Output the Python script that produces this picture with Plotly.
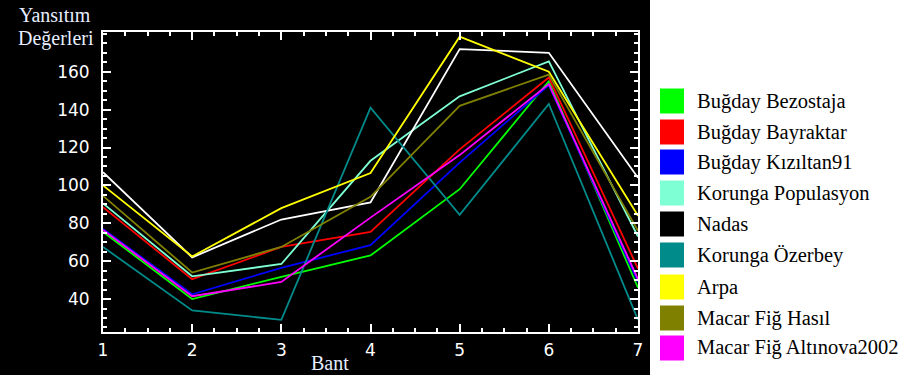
import plotly.graph_objects as go

bands = [1, 2, 3, 4, 5, 6, 7]
y_ticks = [40, 60, 80, 100, 120, 140, 160]

names = ["Buğday Bezostaja", "Buğday Bayraktar", "Buğday Kızıltan91",
         "Korunga Populasyon", "Nadas", "Korunga Özerbey", "Arpa",
         "Macar Fiğ Hasıl", "Macar Fiğ Altınova2002"]

bezostaja = [75.5, 40, 51.7, 63, 98, 155, 46]
bayraktar = [88.5, 50.5, 67.5, 75.5, 119, 157, 56]
kiziltan91 = [77, 42.5, 56.5, 68.5, 112, 153, 49]
korunga_pop = [90.5, 52, 58.5, 113, 147, 165.5, 73]
nadas = [107, 62, 82, 91, 172, 170, 104]
korunga_ozerbey = [67.5, 34, 29, 141, 84.5, 143, 29]
arpa = [100, 62.5, 88, 106.5, 178.5, 160, 84]
macar_hasil = [94.5, 54, 67.5, 94, 142, 158.5, 76]
macar_altinova = [76.5, 41.5, 49, 83, 116, 153.5, 50.5]

series = [bezostaja, bayraktar, kiziltan91, korunga_pop, nadas,
          korunga_ozerbey, arpa, macar_hasil, macar_altinova]
line_colors = ["#00ff00", "#ff0000", "#0000ff", "#7fffd4", "#ffffff",
               "#008b8b", "#ffff00", "#808000", "#ff00ff"]
legend_colors = ["#00ff00", "#ff0000", "#0000ff", "#7fffd4", "#000000",
                 "#008b8b", "#ffff00", "#808000", "#ff00ff"]

W, H = 904, 381
L, R, T, B = 103, 638, 32, 332


def px(x):
    return (x - L) / (R - L)


def py(y):
    return (B - y) / (B - T)


fig = go.Figure()
for name, vals, col in zip(names, series, line_colors):
    fig.add_trace(go.Scatter(x=bands, y=vals, mode="lines", name=name,
                             line=dict(color=col, width=1.8), showlegend=False))

shapes = [dict(type="rect", xref="paper", yref="paper",
               x0=px(0), x1=px(650), y0=py(375), y1=py(0),
               fillcolor="black", line=dict(width=0), layer="below")]
annotations = []

serif = "Liberation Serif"
title_col = "#e6eeff"
annotations.append(dict(text="Yansıtım", xref="paper", yref="paper",
                        x=px(17), y=py(15), xanchor="left", yanchor="middle",
                        showarrow=False, font=dict(family=serif, size=20, color=title_col)))
annotations.append(dict(text="Değerleri", xref="paper", yref="paper",
                        x=px(16), y=py(38), xanchor="left", yanchor="middle",
                        showarrow=False, font=dict(family=serif, size=20, color=title_col)))
annotations.append(dict(text="Bant", xref="paper", yref="paper",
                        x=px(330), y=py(363), xanchor="center", yanchor="middle",
                        showarrow=False, font=dict(family=serif, size=20, color=title_col)))

centers = [101, 132, 162, 193, 224, 255, 287, 318, 348]
for name, col, c in zip(names, legend_colors, centers):
    shapes.append(dict(type="rect", xref="paper", yref="paper",
                       x0=px(660), x1=px(684), y0=py(c + 12.5), y1=py(c - 12.5),
                       fillcolor=col, line=dict(width=0)))
    annotations.append(dict(text=name, xref="paper", yref="paper",
                            x=px(695), y=py(c), xanchor="left", yanchor="middle",
                            showarrow=False,
                            font=dict(family=serif, size=20.5, color="black")))

axis_common = dict(showgrid=False, zeroline=False, showline=True,
                   linecolor="white", linewidth=2, mirror="allticks",
                   ticks="inside", tickcolor="white", tickwidth=2, ticklen=8,
                   tickfont=dict(family="DejaVu Sans", size=17, color="white"))

fig.update_layout(
    width=W, height=H,
    margin=dict(l=L, r=W - R, t=T, b=H - B, pad=0),
    paper_bgcolor="white", plot_bgcolor="black",
    xaxis=dict(range=[1, 7], tickmode="linear", tick0=1, dtick=1,
               minor=dict(tickmode="linear", tick0=0, dtick=0.25, ticks="inside",
                          ticklen=4, tickcolor="white", tickwidth=2),
               ticklabelstandoff=2, **axis_common),
    yaxis=dict(range=[22.6, 181], tickmode="array", tickvals=y_ticks,
               minor=dict(tickmode="linear", tick0=0, dtick=5, ticks="inside",
                          ticklen=4, tickcolor="white", tickwidth=2),
               ticklabelstandoff=8, **axis_common),
    shapes=shapes, annotations=annotations,
)

fig.write_html("out.html", config={"displayModeBar": False},
               post_script="document.body.style.margin='0';document.body.style.padding='0';")
